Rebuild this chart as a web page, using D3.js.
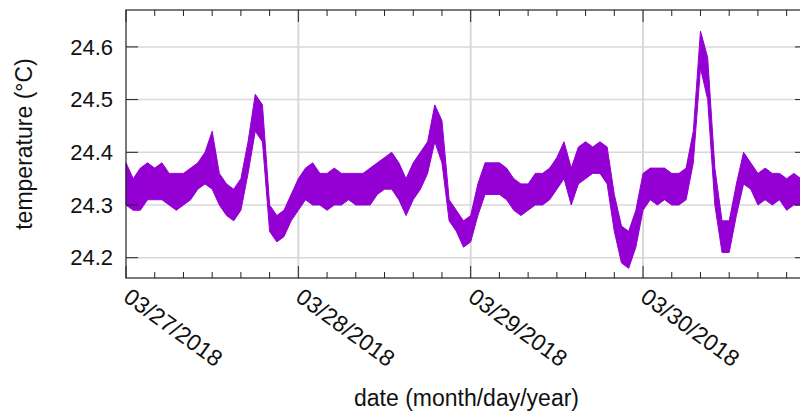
<!DOCTYPE html>
<html>
<head>
  <script src="https://d3js.org/d3.v7.min.js"></script>
  <style>
    body { margin: 0; background: white; }
    svg { display: block; font-family: 'Liberation Sans', Arial, sans-serif; }
  </style>
</head>
<body>
<svg id="chart" width="800" height="414"></svg>
<script>
  // hourly readings (low / high of the trace), starting 03/27/2018 00:00
  const startTime = new Date(2018, 2, 27, 0, 0);
  const endTime = new Date(2018, 2, 30, 22, 50);
  const tempLow = [
    24.30, 24.29, 24.29, 24.31, 24.31, 24.31, 24.30, 24.29, 24.30, 24.31,
    24.33, 24.34, 24.33, 24.30, 24.28, 24.27, 24.29, 24.36, 24.44, 24.42,
    24.25, 24.23, 24.24, 24.27, 24.29, 24.31, 24.30, 24.30, 24.29, 24.30,
    24.30, 24.31, 24.30, 24.30, 24.30, 24.32, 24.33, 24.33, 24.31, 24.28,
    24.31, 24.33, 24.36, 24.42, 24.38, 24.27, 24.25, 24.22, 24.23, 24.28,
    24.32, 24.32, 24.32, 24.31, 24.29, 24.28, 24.29, 24.30, 24.30, 24.31,
    24.33, 24.35, 24.30, 24.34, 24.35, 24.36, 24.36, 24.34, 24.25, 24.19,
    24.18, 24.22, 24.29, 24.31, 24.30, 24.31, 24.30, 24.30, 24.31, 24.38,
    24.56, 24.50, 24.30, 24.21, 24.21, 24.28, 24.34, 24.33, 24.30, 24.31,
    24.30, 24.31, 24.29, 24.30, 24.30
  ];
  const tempHigh = [
    24.38, 24.35, 24.37, 24.38, 24.37, 24.38, 24.36, 24.36, 24.36, 24.37,
    24.38, 24.40, 24.44, 24.36, 24.34, 24.33, 24.35, 24.42, 24.51, 24.49,
    24.30, 24.28, 24.29, 24.32, 24.35, 24.37, 24.38, 24.36, 24.36, 24.37,
    24.36, 24.36, 24.36, 24.36, 24.37, 24.38, 24.39, 24.40, 24.38, 24.35,
    24.38, 24.40, 24.42, 24.49, 24.46, 24.31, 24.29, 24.27, 24.28, 24.34,
    24.38, 24.38, 24.38, 24.37, 24.35, 24.34, 24.34, 24.36, 24.36, 24.37,
    24.39, 24.42, 24.37, 24.41, 24.42, 24.41, 24.42, 24.41, 24.32, 24.26,
    24.25, 24.29, 24.36, 24.37, 24.37, 24.37, 24.36, 24.36, 24.37, 24.44,
    24.63, 24.58, 24.37, 24.27, 24.27, 24.34, 24.40, 24.38, 24.36, 24.37,
    24.36, 24.36, 24.35, 24.36, 24.35
  ];
  const yTicks = [24.2, 24.3, 24.4, 24.5, 24.6];

  const svg = d3.select("#chart");
  const mLeft = 126, mRight = 807, mTop = 10, mBottom = 278;
  const purple = "#9400d3";

  const x = d3.scaleTime().domain([startTime, endTime]).range([mLeft, mRight]);
  const y = d3.scaleLinear().domain([24.1615, 24.670]).range([mBottom, mTop]);

  const readings = tempLow.map((lo, i) => ({
    t: d3.timeHour.offset(startTime, i), lo: lo, hi: tempHigh[i]
  }));

  const dayTicks = d3.timeDay.range(startTime, endTime);
  const minorTicks = d3.timeHour.every(4).range(startTime, endTime)
    .filter(d => d.getHours() !== 0);

  // grid
  svg.append("g").selectAll("line").data(yTicks).join("line")
    .attr("x1", mLeft).attr("x2", mRight)
    .attr("y1", d => y(d)).attr("y2", d => y(d))
    .attr("stroke", "#d8d8d8").attr("stroke-width", 1.5);
  svg.append("g").selectAll("line").data(dayTicks.slice(1)).join("line")
    .attr("x1", d => x(d)).attr("x2", d => x(d))
    .attr("y1", mTop).attr("y2", mBottom)
    .attr("stroke", "#d8d8d8").attr("stroke-width", 2);

  // data band
  svg.append("path")
    .datum(readings)
    .attr("d", d3.area().x(d => x(d.t)).y0(d => y(d.lo)).y1(d => y(d.hi)))
    .attr("fill", purple)
    .attr("stroke", purple)
    .attr("stroke-width", 1);

  // ticks (inside, mirrored)
  const tk = svg.append("g").attr("stroke", "#222").attr("stroke-width", 1);
  tk.selectAll(".yl").data(yTicks).join("line")
    .attr("x1", mLeft).attr("x2", mLeft + 12)
    .attr("y1", d => y(d)).attr("y2", d => y(d));
  tk.selectAll(".yr").data(yTicks).join("line")
    .attr("x1", mRight - 12).attr("x2", mRight)
    .attr("y1", d => y(d)).attr("y2", d => y(d));
  tk.selectAll(".xb").data(dayTicks).join("line")
    .attr("x1", d => x(d)).attr("x2", d => x(d))
    .attr("y1", mBottom).attr("y2", mBottom - 12);
  tk.selectAll(".xt").data(dayTicks).join("line")
    .attr("x1", d => x(d)).attr("x2", d => x(d))
    .attr("y1", mTop).attr("y2", mTop + 12);
  tk.selectAll(".mb").data(minorTicks).join("line")
    .attr("x1", d => x(d)).attr("x2", d => x(d))
    .attr("y1", mBottom).attr("y2", mBottom - 6);
  tk.selectAll(".mt").data(minorTicks).join("line")
    .attr("x1", d => x(d)).attr("x2", d => x(d))
    .attr("y1", mTop).attr("y2", mTop + 6);

  // frame
  svg.append("rect")
    .attr("x", mLeft).attr("y", mTop)
    .attr("width", mRight - mLeft).attr("height", mBottom - mTop)
    .attr("fill", "none").attr("stroke", "#222").attr("stroke-width", 1.2);

  // tick labels
  svg.append("g").selectAll("text").data(yTicks).join("text")
    .attr("x", 113).attr("y", d => y(d))
    .attr("dy", "0.35em")
    .attr("text-anchor", "end")
    .attr("font-size", 22)
    .attr("fill", "#111")
    .text(d3.format(".1f"));

  const fmt = d3.timeFormat("%m/%d/%Y");
  svg.append("g").selectAll("text").data(dayTicks).join("text")
    .attr("transform", d => `translate(${x(d) - 4},300) rotate(36)`)
    .attr("font-size", 23)
    .attr("fill", "#111")
    .text(fmt);

  // axis titles
  svg.append("text")
    .attr("transform", `translate(32,${(mTop + mBottom) / 2}) rotate(-90)`)
    .attr("text-anchor", "middle")
    .attr("font-size", 23)
    .attr("fill", "#111")
    .text("temperature (°C)");

  svg.append("text")
    .attr("x", (mLeft + mRight) / 2).attr("y", 406)
    .attr("text-anchor", "middle")
    .attr("font-size", 23)
    .attr("fill", "#111")
    .text("date (month/day/year)");
</script>
</body>
</html>
